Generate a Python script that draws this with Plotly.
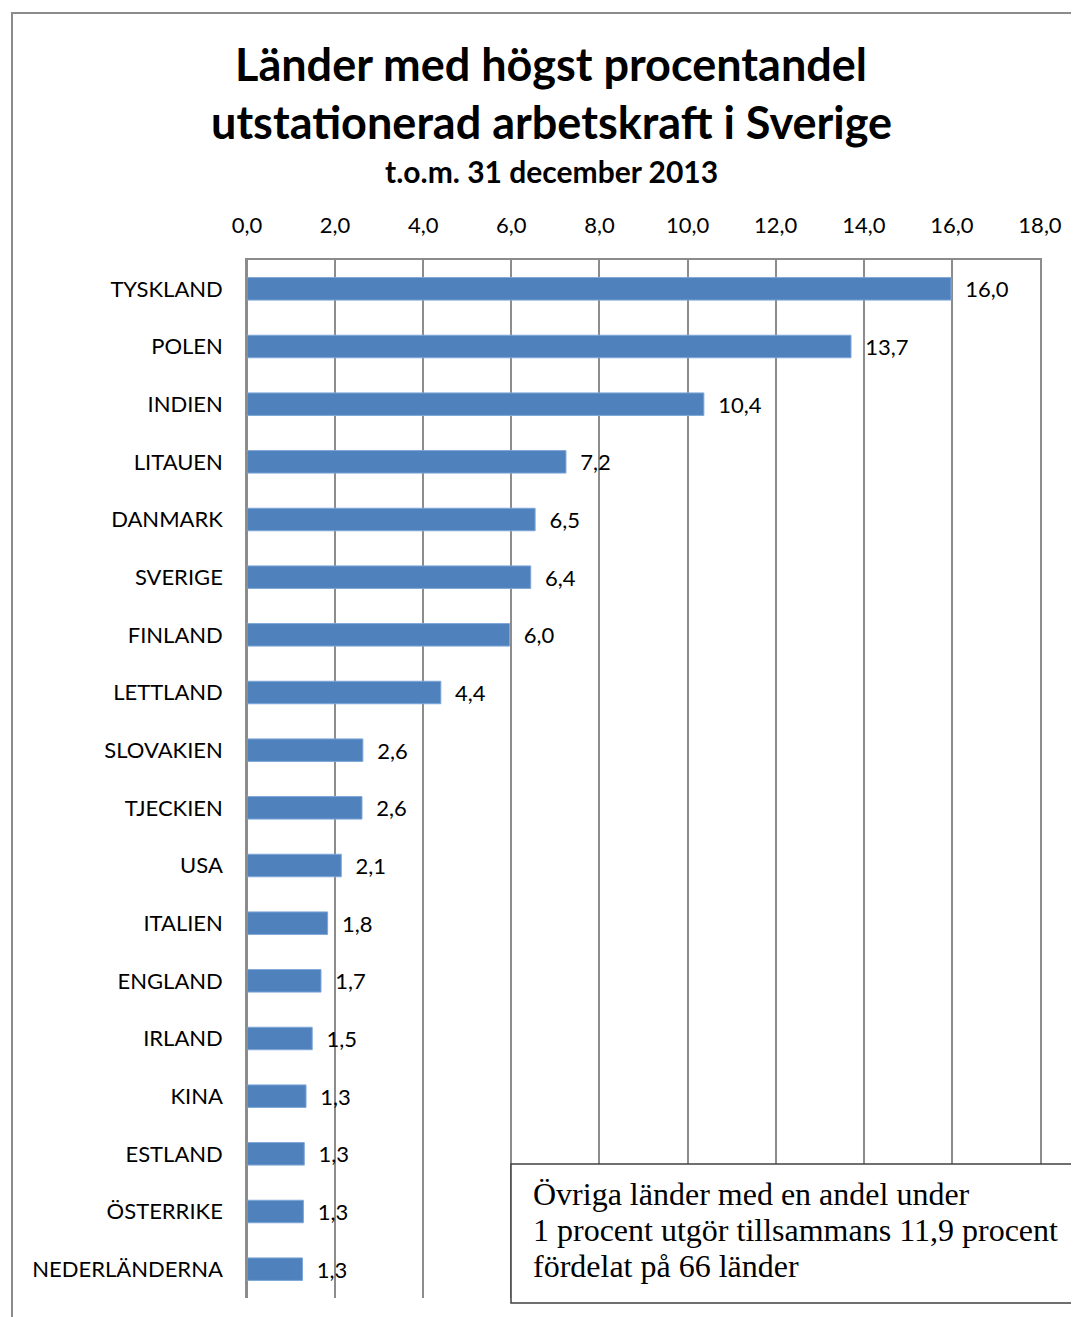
import plotly.graph_objects as go

countries = ["TYSKLAND", "POLEN", "INDIEN", "LITAUEN", "DANMARK", "SVERIGE", "FINLAND",
             "LETTLAND", "SLOVAKIEN", "TJECKIEN", "USA", "ITALIEN", "ENGLAND", "IRLAND",
             "KINA", "ESTLAND", "ÖSTERRIKE", "NEDERLÄNDERNA"]
values = [15.98, 13.71, 10.37, 7.24, 6.54, 6.44, 5.96, 4.40, 2.63, 2.61, 2.14, 1.83,
          1.68, 1.48, 1.34, 1.30, 1.28, 1.26]
x_ticks = [0, 2, 4, 6, 8, 10, 12, 14, 16, 18]

title1 = "Länder med högst procentandel"
title2 = "utstationerad arbetskraft i Sverige"
subtitle = "t.o.m. 31 december 2013"
note_lines = ["Övriga länder med en andel under",
              "1 procent utgör tillsammans 11,9 procent",
              "fördelat på 66 länder"]

OFF = 8  # page body margin
W, H = 1079 - OFF, 1317 - OFF
L, R, T, B = 247 - OFF, 1040 - OFF, 260 - OFF, 1298 - OFF

def px(xp):
    return (xp - OFF - L) / (R - L)

def py(yp):
    return (B - (yp - OFF)) / (B - T)

fig = go.Figure()
fig.add_trace(go.Bar(
    x=values, y=countries, orientation="h",
    marker=dict(color="#4F81BD", line=dict(color="#7EA6D8", width=1)),
    width=0.39,
    texttemplate="\u00a0\u00a0%{x:.1f}", textposition="outside",
    constraintext="none",
    textfont=dict(family="Lato", size=22, color="#000000"),
    cliponaxis=False,
))

gray = "#8C8C8C"
fig.update_layout(
    width=W, height=H,
    margin=dict(l=L, r=W - R, t=T, b=H - B),
    paper_bgcolor="white", plot_bgcolor="white",
    separators=", ",
    showlegend=False,
    xaxis=dict(
        range=[0, 18], side="top", tickvals=x_ticks, tickformat=".1f",
        showgrid=True, gridcolor=gray, gridwidth=1.5,
        zeroline=True, zerolinecolor=gray, zerolinewidth=1.5,
        showline=True, linecolor=gray, linewidth=1.5,
        ticks="", ticklabelstandoff=16,
        tickfont=dict(family="Lato", size=22, color="#000000"),
        fixedrange=True,
    ),
    yaxis=dict(
        categoryorder="array", categoryarray=countries[::-1],
        showline=True, mirror=True, linecolor=gray, linewidth=1.5,
        ticks="", ticklabelstandoff=18,
        tickfont=dict(family="Lato", size=22, color="#000000"),
        showgrid=False,
    ),
)

# outer chart frame (left and top edges)
fig.add_shape(type="line", xref="paper", yref="paper",
              x0=px(12), x1=px(12), y0=py(1317 + 5), y1=py(13),
              line=dict(color=gray, width=2))
fig.add_shape(type="line", xref="paper", yref="paper",
              x0=px(11), x1=px(1079 + 5), y0=py(13), y1=py(13),
              line=dict(color=gray, width=2))

# note box
fig.add_shape(type="rect", xref="paper", yref="paper",
              x0=px(511), x1=px(1079 + 10), y0=py(1303), y1=py(1164),
              fillcolor="white", line=dict(color="#404040", width=1.5), layer="above")

annos = [
    dict(text="<b>" + title1 + "</b>", y=64, size=45),
    dict(text="<b>" + title2 + "</b>", y=122, size=45),
    dict(text="<b>" + subtitle + "</b>", y=171, size=30),
]
for a in annos:
    fig.add_annotation(text=a["text"], x=px(551), y=py(a["y"]), xref="paper", yref="paper",
                       xanchor="center", yanchor="middle", showarrow=False,
                       font=dict(family="Lato", size=a["size"], color="#000000"))

for i, line in enumerate(note_lines):
    fig.add_annotation(text=line, x=px(531), y=py(1194 + 36 * i), xref="paper", yref="paper",
                       xanchor="left", yanchor="middle", align="left", showarrow=False,
                       font=dict(family="Liberation Serif", size=32, color="#000000"))

fig.write_html("out.html")
